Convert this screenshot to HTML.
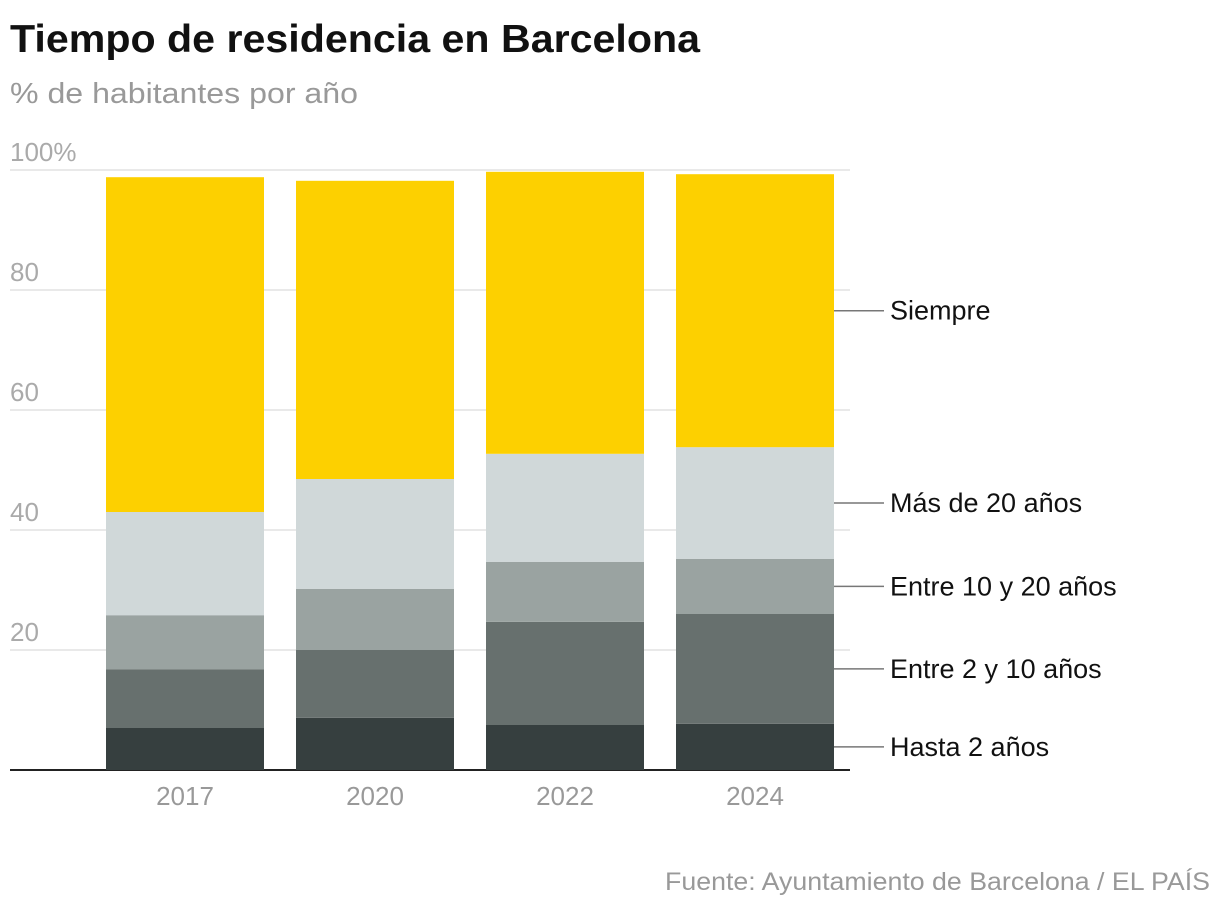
<!DOCTYPE html>
<html><head><meta charset="utf-8">
<style>
body{margin:0;background:#fff;width:1220px;height:910px;overflow:hidden;font-family:"Liberation Sans",sans-serif;}
</style></head>
<body>
<svg id="chart" width="1220" height="910" xmlns="http://www.w3.org/2000/svg">
<text x="10" y="52" font-size="39" font-weight="bold" fill="#111" font-family="Liberation Sans, sans-serif" textLength="690" lengthAdjust="spacingAndGlyphs">Tiempo de residencia en Barcelona</text>
<text x="10" y="103" font-size="29" fill="#999" font-family="Liberation Sans, sans-serif" textLength="348" lengthAdjust="spacingAndGlyphs">% de habitantes por año</text>
<text x="1210" y="890" text-anchor="end" font-size="25" fill="#999" font-family="Liberation Sans, sans-serif" textLength="545" lengthAdjust="spacingAndGlyphs">Fuente: Ayuntamiento de Barcelona / EL PAÍS</text>
<g id="grid"></g><g id="bars"></g><g id="labels"></g>
</svg>
<script>
const years = ["2017","2020","2022","2024"];
const seriesNames = ["Hasta 2 años","Entre 2 y 10 años","Entre 10 y 20 años","Más de 20 años","Siempre"];
const hasta2 = [7.0, 8.7, 7.5, 7.7];
const entre2y10 = [9.8, 11.3, 17.2, 18.3];
const entre10y20 = [9.0, 10.2, 10.0, 9.2];
const mas20 = [17.2, 18.3, 18.0, 18.6];
const siempre = [55.8, 49.7, 47.0, 45.5];
const yTicks = [0, 20, 40, 60, 80, 100];
const tickLabels = ["", "20", "40", "60", "80", "100%"];

const series = [hasta2, entre2y10, entre10y20, mas20, siempre];
const colors = ["#363f3f","#67706e","#9aa3a1","#d0d8d9","#fdd000"];
const NS = "http://www.w3.org/2000/svg";
const y = v => 770 - v * 6;
const x = i => 106 + i * 190;
const bw = 158;
function mk(tag, attrs, parent){const e=document.createElementNS(NS,tag);for(const k in attrs)e.setAttribute(k,attrs[k]);document.getElementById(parent).appendChild(e);return e;}

yTicks.forEach((t,i)=>{
  if(t>0){
    const l=mk("line",{x1:10,x2:850,y1:y(t),y2:y(t),stroke:"#e2e2e2","stroke-width":1.5},"grid");
    
    
  }
  const tx=mk("text",{x:10,y:y(t)-9,"font-size":26,fill:"#aaa"},"grid");
  tx.textContent=tickLabels[i];
  
  
});

years.forEach((yr,i)=>{
  let cum=0;
  series.forEach((s,k)=>{
    const r=mk("rect",{x:x(i),width:bw,y:y(cum+s[i]),height:s[i]*6,fill:colors[k]},"bars");
    
    
    cum+=s[i];
  });
  const t=mk("text",{x:x(i)+bw/2,y:805,"text-anchor":"middle","font-size":26,fill:"#999"},"labels");
  t.textContent=yr;
  
  
});

const ax=mk("line",{x1:10,x2:850,y1:770,y2:770,stroke:"#222","stroke-width":2},"grid");



let cum=0; const last=years.length-1;
series.forEach((s,k)=>{
  const mid=y(cum+s[last]/2); cum+=s[last];
  const l=mk("line",{x1:834,x2:884,y1:mid,y2:mid,stroke:"#777","stroke-width":1.5},"labels");
  
  
  const t=mk("text",{x:890,y:mid+9,"font-size":27,fill:"#111"},"labels");
  t.textContent=seriesNames[k];
  
  
});
</script>
</body></html>
